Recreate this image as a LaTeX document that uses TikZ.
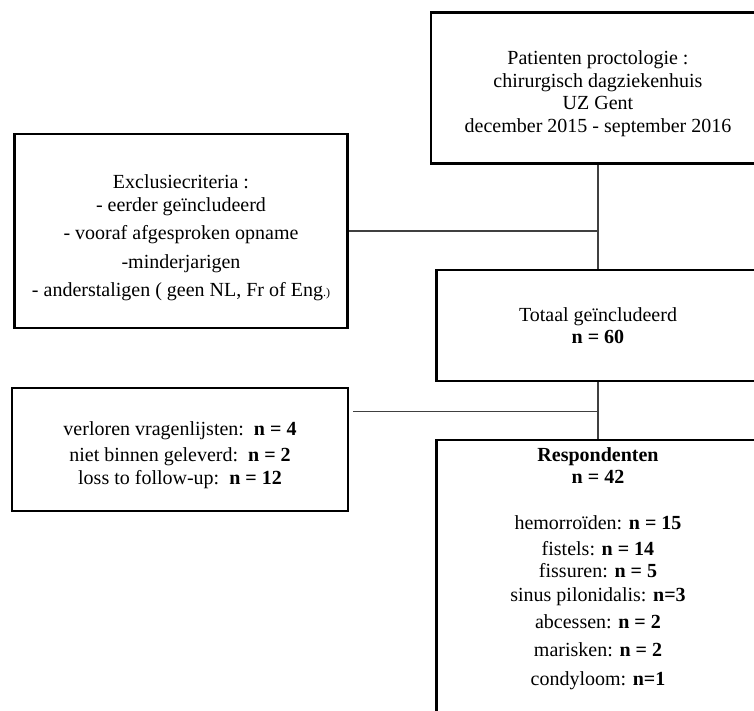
\documentclass[tikz,border=0pt]{standalone}
\usepackage{fontspec}
\setmainfont{Liberation Serif}
\usepackage{tikz}
\usetikzlibrary{positioning}
\usetikzlibrary{calc}

\begin{document}
\begin{tikzpicture}[x = 0.75pt, y = -0.75pt,
box/.style = {draw, line width = 2.2pt, align = center, font = \fontsize{15}{17}\selectfont},
link/.style = {line width = 0.8pt, black!75}]
\useasboundingbox (0, 0) rectangle (754, 711);
\clip (0, 0) rectangle (754, 711);
%\draw[step = 50, gray, very thin] (0, 0) grid (754, 711);
\node[box, minimum width = 250.5pt, minimum height = 113pt] (patients) at (598, 88) {\rule{0pt}{19pt}Patienten proctologie :\\ chirurgisch dagziekenhuis\\ UZ Gent\\ december 2015 - september 2016};
\node[box, minimum width = 250pt, minimum height = 145.5pt] (exclusion) at (181, 231) {\rule{0pt}{21pt}Exclusiecriteria :\\ - eerder geïncludeerd\\[4pt] - vooraf afgesproken opname\\[5pt] -minderjarigen\\[4pt] - anderstaligen ( geen NL, Fr of Eng{\small.)}};
\node[box, minimum width = 242pt, minimum height = 83.25pt] (total) at (598, 325.5) {Totaal geïncludeerd\\ \textbf{n = 60}};
\node[box, minimum width = 252pt, minimum height = 92.25pt] (lost) at (180, 449.5) {\rule{0pt}{19pt}verloren vragenlijsten:\ \ \textbf{n = 4}\\[2.5pt] niet binnen geleverd:\ \ \textbf{n = 2}\\ loss to follow-up:\ \ \textbf{n = 12}};
\node[box, minimum width = 242pt, minimum height = 240pt] (resp) at (598, 600) {};
\node[align = center, font = \fontsize{15}{17}\selectfont, below = 3pt of resp.north] (resp text) {\textbf{Respondenten}\\ \textbf{n = 42}\\[17pt] hemorroïden: \textbf{n = 15}\\[2.5pt] fistels: \textbf{n = 14}\\ fissuren: \textbf{n = 5}\\[0.5pt] sinus pilonidalis: \textbf{n=3}\\[3.5pt] abcessen: \textbf{n = 2}\\[4pt] marisken: \textbf{n = 2}\\[4.5pt] condyloom: \textbf{n=1}};
\draw[link] (patients) -- (total);
\draw[link] (total) -- (resp);
\draw[link] (exclusion.east) -- (exclusion.east -| patients.south);
\coordinate (lost out) at ($(lost.north east)!0.2!(lost.south east) + (3pt, 0)$);
\draw[link] (lost out) -- (lost out -| patients.south);
\end{tikzpicture}
\end{document}
